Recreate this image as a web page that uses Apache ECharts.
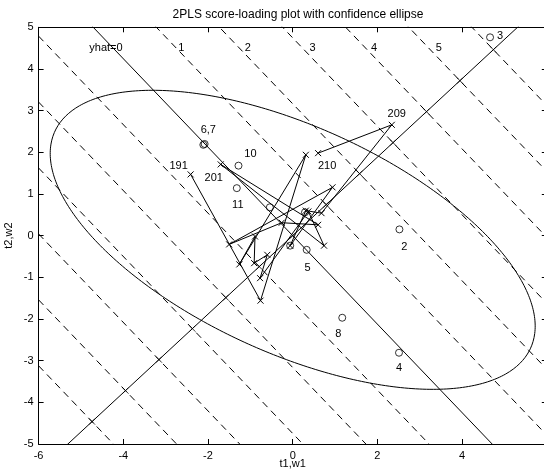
<!DOCTYPE html>
<html><head><meta charset="utf-8">
<script src="https://cdn.jsdelivr.net/npm/echarts@6/dist/echarts.min.js"></script>
<style>html,body{margin:0;padding:0;background:#fff}#c{width:544px;height:475px}</style>
</head><body><div id="c"></div>
<script>
// ---------- data ----------
const titleText = '2PLS score-loading plot with confidence ellipse';
const xName = 't1,w1';
const yName = 't2,w2';
// score points (circles)
const scoreLabels = ['', '2', '3', '4', '5', '6,7', '', '8', '', '10', '11', ''];
const scoreT1 = [-0.54, 2.52, 4.66, 2.51, 0.33, -2.11, -2.08, 1.17, 0.29, -1.28, -1.32, -0.06];
const scoreT2 = [0.68, 0.15, 4.76, -2.81, -0.34, 2.18, 2.20, -1.97, 0.56, 1.68, 1.14, -0.24];
// loading path (x markers), variables 191..210
const loadLabels = ['191','','','','','','','','','','201','','','','','','','','209','210'];
const loadW1 = [-2.41, -0.76, 0.31, -1.26, -0.89, -0.91, -0.60, -0.77, 0.37, 0.74, -1.70, 0.60, -0.26, -1.50, 0.94, -0.06, 0.31, 0.68, 2.34, 0.60];
const loadW2 = [1.47, -1.56, 1.94, -0.69, -0.02, -0.66, -0.46, -1.02, 0.58, -0.24, 1.71, 0.26, 0.31, -0.21, 1.16, -0.24, 0.60, 0.54, 2.66, 1.98];
// prediction yhat = c1*t1 + c2*t2
const yhatCoef = [0.671, 0.632];
const yhatLevels = [-6,-5,-4,-3,-2,-1,0,1,2,3,4,5,6];
const yhatLabelTexts = ['yhat=0','1','2','3','4','5'];
const yhatLabelT1 = [-4.41, -2.63, -1.06, 0.47, 1.92, 3.45];
const yhatLabelT2 = [4.5, 4.5, 4.5, 4.5, 4.5, 4.5];
// confidence ellipse: center, semi-axes, angle (deg)
const ellipseCenter = [0, -0.1];
const ellipseAxes = [6.19, 2.71];
const ellipseAngle = -25.0;
const xRange = [-6, 6], yRange = [-5, 5];

// ---------- build ----------
const FONT = 'Liberation Sans, Arial, sans-serif';
const black = '#000';
const series = [];
const [c1, c2] = yhatCoef;

yhatLevels.forEach(k => {
  const pts = [xRange[0], xRange[1]].map(t1 => [t1, (k - c1 * t1) / c2]);
  series.push({
    type: 'line', data: pts, symbol: 'none', clip: true, silent: true,
    lineStyle: { color: black, width: 1, type: k === 0 ? 'solid' : [7, 5] }
  });
});
series.push({
  type: 'line', symbol: 'none', clip: true, silent: true,
  data: [xRange[0], xRange[1]].map(t1 => [t1, t1 * c2 / c1]),
  lineStyle: { color: black, width: 1 }
});
const XSYM = 'path://M0 0L10 10M10 0L0 10';
const nrm = c1 * c1 + c2 * c2;
series.push({
  type: 'scatter', symbol: XSYM, symbolSize: 6, silent: true,
  data: yhatLevels.map(k => [k * c1 / nrm, k * c2 / nrm]),
  itemStyle: { color: 'rgba(0,0,0,0)', borderColor: black, borderWidth: 1 }
});
const ell = [];
const th = ellipseAngle * Math.PI / 180;
for (let i = 0; i <= 360; i++) {
  const p = i * Math.PI / 180;
  const a = ellipseAxes[0] * Math.cos(p), b = ellipseAxes[1] * Math.sin(p);
  ell.push([ellipseCenter[0] + a * Math.cos(th) - b * Math.sin(th),
            ellipseCenter[1] + a * Math.sin(th) + b * Math.cos(th)]);
}
series.push({ type: 'line', data: ell, symbol: 'none', silent: true, smooth: false,
  lineStyle: { color: black, width: 1 } });

const scoreLabelOffset = { '2': [5, 18], '3': [10, -1], '4': [0, 15], '5': [1, 18], '6,7': [5, -15], '8': [-4, 16], '10': [12, -12], '11': [1, 17] };
const loadLabelOffset = { '191': [-12, -8], '201': [-7, 14], '209': [5, -11], '210': [9, 13] };
const lblBase = { show: true, position: 'inside', color: black, fontSize: 11, fontFamily: FONT,
  align: 'center', verticalAlign: 'middle', textBorderWidth: 0, textBorderColor: 'transparent', opacity: 1 };

series.push({
  type: 'line', symbol: XSYM, symbolSize: 6, showSymbol: true, silent: true,
  lineStyle: { color: black, width: 1 },
  itemStyle: { color: 'rgba(0,0,0,0)', borderColor: black, borderWidth: 1 },
  data: loadW1.map((w, i) => {
    const l = loadLabels[i];
    const item = { value: [w, loadW2[i]] };
    if (l) item.label = Object.assign({}, lblBase, { formatter: l, offset: loadLabelOffset[l] || [0, 0] });
    return item;
  })
});
series.push({
  type: 'scatter', symbol: 'circle', symbolSize: 7, silent: true,
  itemStyle: { color: 'rgba(0,0,0,0)', borderColor: black, borderWidth: 1 },
  data: scoreT1.map((t, i) => {
    const l = scoreLabels[i];
    const item = { value: [t, scoreT2[i]] };
    if (l) item.label = Object.assign({}, lblBase, { formatter: l, offset: scoreLabelOffset[l] || [0, 0] });
    return item;
  })
});
series.push({
  type: 'scatter', symbol: 'circle', symbolSize: 2, silent: true,
  itemStyle: { color: 'rgba(0,0,0,0)', borderWidth: 0 },
  data: yhatLabelT1.map((t, i) => ({ value: [t, yhatLabelT2[i]],
    label: Object.assign({}, lblBase, { formatter: yhatLabelTexts[i] }) }))
});

const axisCommon = {
  type: 'value',
  axisLine: { show: true, onZero: false, lineStyle: { color: black, width: 1 } },
  axisTick: { show: true, inside: true, length: 5, lineStyle: { color: black, width: 1 } },
  splitLine: { show: false },
  axisLabel: { color: black, fontSize: 11, fontFamily: FONT },
  nameTextStyle: { color: black, fontSize: 11, fontFamily: FONT },
  nameMoveOverlap: false
};
const option = {
  animation: false,
  title: { text: titleText, left: 293, top: 4, textAlign: 'center',
    textStyle: { fontSize: 12, fontWeight: 'normal', color: black, fontFamily: FONT } },
  grid: { left: 38.6, right: -2.8, top: 27.3, bottom: 31, outerBoundsMode: 'none', containLabel: false },
  xAxis: [
    Object.assign({}, axisCommon, { min: xRange[0], max: xRange[1], interval: 2, position: 'bottom',
      name: xName, nameLocation: 'middle', nameGap: 14,
      axisLabel: Object.assign({}, axisCommon.axisLabel, { margin: 6, showMinLabel: true, showMaxLabel: true }) }),
    Object.assign({}, axisCommon, { min: xRange[0], max: xRange[1], interval: 2, position: 'top',
      axisLabel: { show: false } })
  ],
  yAxis: [
    Object.assign({}, axisCommon, { min: yRange[0], max: yRange[1], interval: 1, position: 'left',
      name: yName, nameLocation: 'middle', nameGap: 24, nameRotate: 90,
      axisLabel: Object.assign({}, axisCommon.axisLabel, { margin: 5, showMinLabel: true, showMaxLabel: true }) }),
    Object.assign({}, axisCommon, { min: yRange[0], max: yRange[1], interval: 1, position: 'right',
      axisLabel: { show: false } })
  ],
  series: series
};
const chart = echarts.init(document.getElementById('c'), null, { renderer: 'canvas' });
chart.setOption(option);
</script></body></html>
